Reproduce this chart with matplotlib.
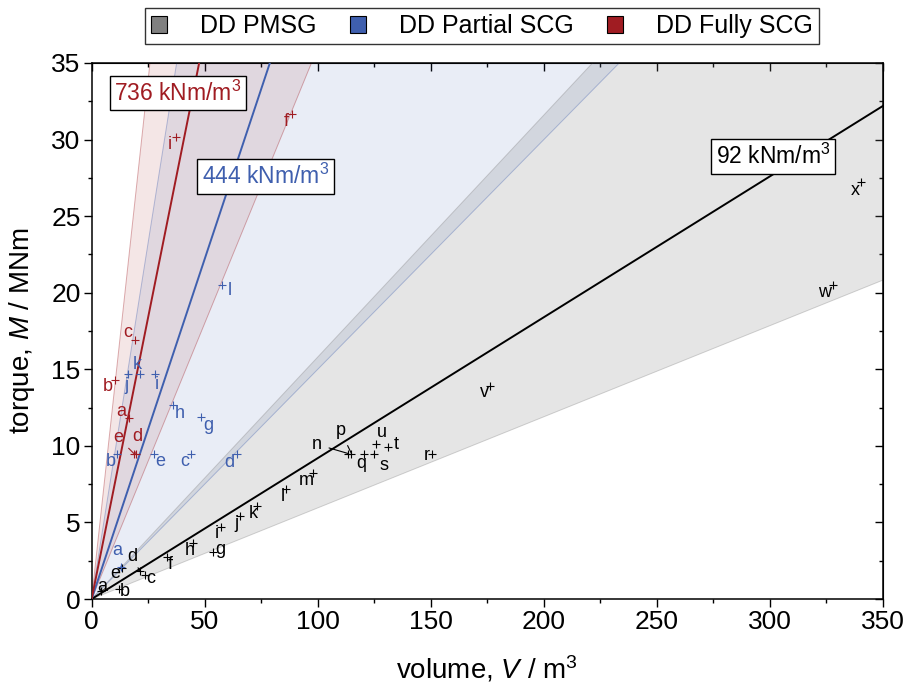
import numpy as np
import matplotlib
matplotlib.use("Agg")
import matplotlib.pyplot as plt
from matplotlib.patches import Patch

plt.rcParams['font.family'] = ['Liberation Sans', 'DejaVu Sans']
plt.rcParams['mathtext.fontset'] = 'custom'
plt.rcParams['mathtext.rm'] = 'Liberation Sans'
plt.rcParams['mathtext.it'] = 'Liberation Sans:italic'

GRAY = '#808080'
BLUE = '#3f5fae'
RED = '#a01c22'

# machine data: volume V (m^3) and torque M (MNm)
pmsg_names = ['a', 'b', 'c', 'd', 'e', 'f', 'g', 'h', 'i', 'j', 'k', 'l',
              'm', 'n', 'p', 'q', 'r', 's', 't', 'u', 'v', 'w', 'x']
pmsg_V = [4.1, 12.1, 23.6, 21.3, 13.4, 33.3, 53.6, 44.7, 57.1, 65.5, 73.0, 85.8,
          97.7, 113.5, 114.9, 120.6, 150.6, 125.0, 131.2, 125.9, 176.2, 328.0, 340.3]
pmsg_M = [0.5, 0.65, 1.6, 1.8, 2.0, 2.75, 3.1, 3.65, 4.7, 5.4, 6.1, 7.2,
          8.2, 9.5, 9.5, 9.5, 9.5, 9.5, 9.9, 10.1, 13.9, 20.5, 27.2]

partial_names = ['a', 'b', 'c', 'd', 'e', 'g', 'h', 'i', 'j', 'k', 'l']
partial_V = [13.0, 11.2, 43.8, 64.1, 27.5, 48.3, 35.9, 28.0, 16.1, 21.4, 57.5]
partial_M = [2.1, 9.5, 9.5, 9.5, 9.5, 11.9, 12.7, 14.7, 14.7, 14.7, 20.5]

fully_names = ['a', 'b', 'c', 'd', 'e', 'f', 'i']
fully_V = [16.5, 10.3, 19.1, 19.5, 18.7, 88.8, 37.2]
fully_M = [11.8, 14.3, 16.9, 9.5, 9.5, 31.7, 30.2]

# torque densities in kNm/m^3 (fit line, band low, band high)
pmsg_density = [92, 59.5, 158]
partial_density = [444, 150, 931]
fully_density = [736, 360, 1357]

# label offsets in pixels (dx, dy) and whether a leader line is drawn
pmsg_offsets = {'a': (1, 5, False), 'b': (6, -2, False), 'c': (6, -4, False),
                'd': (-7, 15, True), 'e': (-7, -5, False), 'f': (3, -8, False),
                'g': (7, 2, False), 'h': (-3, -7, False), 'i': (-4, -6, False),
                'j': (-3, -7, False), 'k': (-3, -8, False), 'l': (-3, -8, False),
                'm': (-6, -7, False), 'n': (-31, 9, True), 'p': (-11, 23, True),
                'q': (-3, -10, False), 'r': (-5, -2, False), 's': (10, -12, True),
                't': (8, 3, False), 'u': (6, 12, True), 'v': (-6, -6, False),
                'w': (-9, -7, False), 'x': (-6, -8, False)}
partial_offsets = {'a': (-4, 16, True), 'b': (-6, -8, False), 'c': (-6, -8, False),
                   'd': (-7, -9, False), 'e': (6, -8, False), 'g': (7, -9, False),
                   'h': (7, -9, False), 'i': (2, -11, False), 'j': (-2, -12, False),
                   'k': (-3, 9, False), 'l': (8, -5, False)}
fully_offsets = {'a': (-8, 7, False), 'b': (-7, -6, False), 'c': (-7, 8, False),
                 'd': (2, 17, True), 'e': (-16, 16, True), 'f': (-6, -8, False),
                 'i': (-6, -8, False)}

fig = plt.figure(figsize=(9.09, 6.93), dpi=100)
ax = fig.add_axes([0.1008, 0.1356, 0.8706, 0.7735])
ax.set_xlim(0, 350)
ax.set_ylim(0, 35)

vv = np.array([0, 350])


def band(density, color, alpha):
    lo = density[1] / 1000 * vv
    hi = density[2] / 1000 * vv
    ax.fill_between(vv, lo, hi, color=color, alpha=alpha, lw=0, zorder=1)
    for k in density[1:]:
        ax.plot(vv, k / 1000 * vv, color=color, lw=0.7, alpha=0.35, zorder=2)


band(pmsg_density, GRAY, 0.2)
band(fully_density, RED, 0.11)
band(partial_density, BLUE, 0.11)

for density, color in [(pmsg_density, 'black'), (partial_density, BLUE),
                       (fully_density, RED)]:
    ax.plot(vv, density[0] / 1000 * vv, color=color, lw=1.4, zorder=3)


def points(names, V, M, offsets, color):
    ax.plot(V, M, '+', color=color, ms=6, mew=0.8, zorder=4)
    for n, x, y in zip(names, V, M):
        dx, dy, leader = offsets[n]
        arrow = None
        if leader:
            arrow = dict(arrowstyle='-', color=color, lw=0.8, shrinkA=3, shrinkB=0)
        ax.annotate(n, (x, y), xytext=(dx, dy), textcoords='offset pixels',
                    color=color, fontsize=13, ha='center', va='center',
                    arrowprops=arrow, zorder=5)


points(pmsg_names, pmsg_V, pmsg_M, pmsg_offsets, 'black')
points(partial_names, partial_V, partial_M, partial_offsets, BLUE)
points(fully_names, fully_V, fully_M, fully_offsets, RED)

box = dict(boxstyle='square,pad=0.2', fc='white', ec='black', lw=1)
ax.text(38.1, 33.05, '%d kNm/m$^3$' % fully_density[0], color=RED, fontsize=16.5,
        ha='center', va='center', bbox=box, zorder=6)
ax.text(76.9, 27.6, '%d kNm/m$^3$' % partial_density[0], color=BLUE, fontsize=16.5,
        ha='center', va='center', bbox=box, zorder=6)
ax.text(301.4, 28.9, '%d kNm/m$^3$' % pmsg_density[0], color='black', fontsize=16.5,
        ha='center', va='center', bbox=box, zorder=6)

ax.set_xticks(np.arange(0, 351, 50))
ax.set_yticks(np.arange(0, 36, 5))
ax.set_xticks(np.arange(0, 351, 25), minor=True)
ax.set_yticks(np.arange(0, 36, 2.5), minor=True)
ax.tick_params(which='both', direction='out', labelsize=19, width=1, pad=2)
ax.tick_params(which='major', length=6)
ax.tick_params(which='minor', length=3)
for s in ax.spines.values():
    s.set_linewidth(1.1)

top = ax.secondary_xaxis('top')
top.set_xticks(np.arange(0, 351, 50))
top.set_xticks(np.arange(0, 351, 25), minor=True)
top.tick_params(which='both', direction='in', labeltop=False, width=1)
top.tick_params(which='major', length=6)
top.tick_params(which='minor', length=3)
right = ax.secondary_yaxis('right')
right.set_yticks(np.arange(0, 36, 5))
right.set_yticks(np.arange(0, 36, 2.5), minor=True)
right.tick_params(which='both', direction='in', labelright=False, width=1)
right.tick_params(which='major', length=6)
right.tick_params(which='minor', length=3)

ax.set_xlabel('volume, $V$ / m$^3$', fontsize=20, labelpad=14)
ax.set_ylabel('torque, $M$ / MNm', fontsize=20, labelpad=10)

handles = [Patch(fc=GRAY, ec='black', lw=0.8, label='DD PMSG'),
           Patch(fc=BLUE, ec='black', lw=0.8, label='DD Partial SCG'),
           Patch(fc=RED, ec='black', lw=0.8, label='DD Fully SCG')]
leg = fig.legend(handles=handles, loc='upper center', bbox_to_anchor=(0.530, 0.9885),
                 ncol=3, fontsize=18, frameon=True, fancybox=False,
                 edgecolor='black', handlelength=0.65, handleheight=0.65,
                 handletextpad=1.3, columnspacing=1.35, borderpad=0.25,
                 borderaxespad=0)
leg.get_frame().set_linewidth(1)

fig.savefig('out.png', dpi=100)
